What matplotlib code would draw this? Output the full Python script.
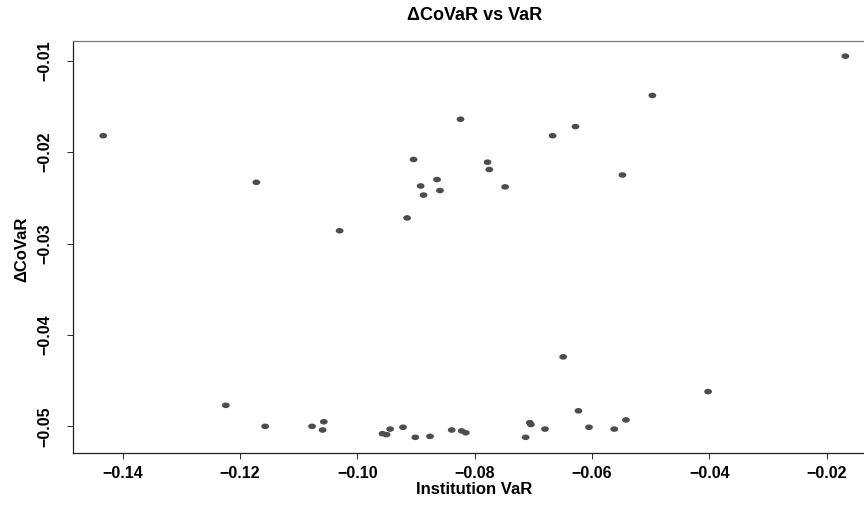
import matplotlib
matplotlib.use("Agg")
import matplotlib.pyplot as plt
import numpy as np
from matplotlib.path import Path

institution_var = [
    -0.1433, -0.1172, -0.0904, -0.0892, -0.0887, -0.0915, -0.1030,
    -0.0168, -0.0497, -0.0824, -0.0628, -0.0667, -0.0778, -0.0775,
    -0.0864, -0.0859, -0.0748, -0.0548,
    -0.1224, -0.1157, -0.1077, -0.1057, -0.1059, -0.0957, -0.0950,
    -0.0944, -0.0922, -0.0901, -0.0876,
    -0.0839, -0.0822, -0.0815, -0.0713, -0.0706, -0.0704, -0.0680,
    -0.0649, -0.0623, -0.0605, -0.0562, -0.0542, -0.0402,
]
delta_covar = [
    -0.0182, -0.0233, -0.0208, -0.0237, -0.0247, -0.0272, -0.0286,
    -0.0095, -0.0138, -0.0164, -0.0172, -0.0182, -0.0211, -0.0219,
    -0.0230, -0.0242, -0.0238, -0.0225,
    -0.0477, -0.0500, -0.0500, -0.0495, -0.0504, -0.0508, -0.0509,
    -0.0503, -0.0501, -0.0512, -0.0511,
    -0.0504, -0.0505, -0.0507, -0.0512, -0.0496, -0.0498, -0.0503,
    -0.0424, -0.0483, -0.0501, -0.0503, -0.0493, -0.0462,
]
x_ticks = [-0.14, -0.12, -0.10, -0.08, -0.06, -0.04, -0.02]
x_tick_labels = ["\u22120.14", "\u22120.12", "\u22120.10", "\u22120.08", "\u22120.06", "\u22120.04", "\u22120.02"]
y_ticks = [-0.05, -0.04, -0.03, -0.02, -0.01]
y_tick_labels = ["\u22120.05", "\u22120.04", "\u22120.03", "\u22120.02", "\u22120.01"]

title = "\u0394CoVaR vs VaR"
xlabel = "Institution VaR"
ylabel = "\u0394CoVaR"

FONT = ["Liberation Sans", "DejaVu Sans"]

W, H = 864, 508
fig = plt.figure(figsize=(W / 100, H / 100), dpi=100)
left, right, top, bottom = 73.3, 875.0, 41.0, 453.3
ax = fig.add_axes([left / W, 1 - bottom / H, (right - left) / W, (bottom - top) / H])

# elliptical marker (image appears horizontally stretched)
t = np.linspace(0, 2 * np.pi, 41)
ell = Path(np.column_stack([np.cos(t), 0.72 * np.sin(t)]), closed=True)
ax.scatter(institution_var, delta_covar, marker=ell, s=(5.6) ** 2,
           color="#4d4d4d", edgecolors="none", zorder=3)

ax.set_xlim(-0.1484, -0.01175)
ax.set_ylim(-0.05295, -0.00784)

ax.set_xticks(x_ticks)
ax.set_xticklabels(x_tick_labels, fontfamily=FONT, fontweight="bold", fontsize=11.5)
ax.set_yticks(y_ticks)
ax.set_yticklabels(y_tick_labels, fontfamily=FONT, fontweight="bold", fontsize=11.5,
                   rotation=90, va="center")
ax.tick_params(axis="x", length=4, width=0.75, pad=5.5, color="#333333")
ax.tick_params(axis="y", length=4.5, width=0.75, pad=10.5, color="#333333")

for s in ax.spines.values():
    s.set_linewidth(0.9)
    s.set_color("#222222")
ax.spines["top"].set_color("#777777")

cx = (left + right) / 2 / W
fig.text(cx, 1 - 16 / H, title, ha="center", va="center",
         fontfamily=FONT, fontweight="bold", fontsize=13)
fig.text(cx, 1 - 489 / H, xlabel, ha="center", va="center",
         fontfamily=FONT, fontweight="bold", fontsize=12)
fig.text(21.5 / W, 1 - 249 / H, ylabel, ha="center", va="center", rotation=90,
         fontfamily=FONT, fontweight="bold", fontsize=12)

fig.savefig("out.png", dpi=100)
